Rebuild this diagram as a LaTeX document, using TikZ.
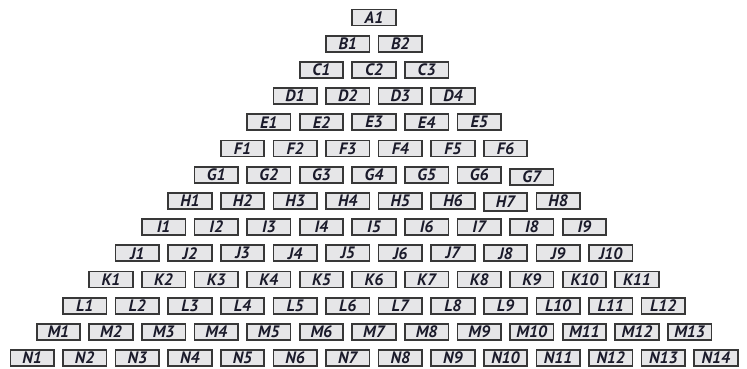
\documentclass[tikz,border=0pt]{standalone}
\usepackage{fontspec}
\setsansfont{PT Sans}
\definecolor{cellfill}{HTML}{E6E6E8}
\definecolor{celldraw}{HTML}{383838}
\definecolor{celltext}{HTML}{1A1A2A}
\begin{document}
\begin{tikzpicture}[x=1pt,y=1pt,
  cell/.style={draw=celldraw, fill=cellfill, line width=1.7pt, minimum width=43.5pt, minimum height=16pt,
    inner sep=0pt, text=celltext, font=\sffamily\bfseries\itshape\fontsize{16.5}{16.5}\selectfont},
  extraG7/.style={yshift=-2pt},
  extraH7/.style={minimum height=18pt, yshift=-1pt}]
\useasboundingbox (0,0) rectangle (747,369);
\foreach \L [count=\i from 0] in {A,B,C,D,E,F,G,H,I,J,K,L,M,N}{
  \pgfmathtruncatemacro\n{\i+1}
  \foreach \j in {1,...,\n}{
    \node[cell, extra\L\j/.try] (\L\j) at ({374+(\j-(\i+2)/2)*52.6},{369-17.5-26.2*\i}) {\L\j};
  }
}
\end{tikzpicture}
\end{document}
